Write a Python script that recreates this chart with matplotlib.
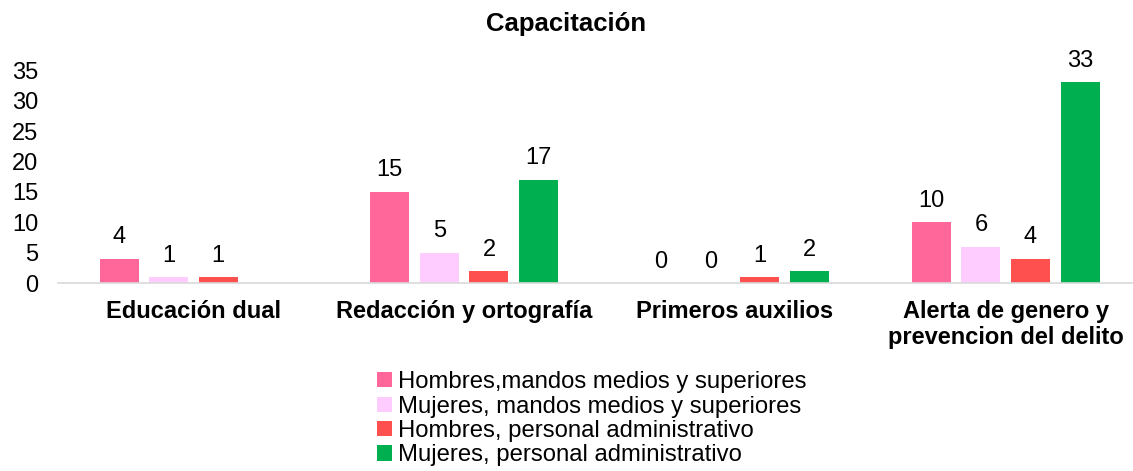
import numpy as np
import matplotlib.pyplot as plt

categorias = ["Educación dual", "Redacción y ortografía", "Primeros auxilios",
              "Alerta de genero y\nprevencion del delito"]
series = ["Hombres,mandos medios y superiores", "Mujeres, mandos medios y superiores",
          "Hombres, personal administrativo", "Mujeres, personal administrativo"]
hombres_mandos = [4, 15, 0, 10]
mujeres_mandos = [1, 5, 0, 6]
hombres_admin = [1, 2, 1, 4]
mujeres_admin = [np.nan, 17, 2, 33]
colores = ["#FF6699", "#FFCCFF", "#FF5050", "#00B050"]

plt.rcParams['font.family'] = ['Liberation Sans', 'DejaVu Sans']

fig = plt.figure(figsize=(11.33, 4.71), dpi=100)
ax = fig.add_axes([0.0512, 0.399, 0.956, 0.452])

x = np.arange(len(categorias))
w = 0.144
paso = 0.183
datos = [hombres_mandos, mujeres_mandos, hombres_admin, mujeres_admin]
for i, (vals, c, nombre) in enumerate(zip(datos, colores, series)):
    pos = x + (i - 1.5) * paso
    ax.bar(pos, vals, width=w, color=c, label=nombre)
    for p, v in zip(pos, vals):
        if not np.isnan(v):
            ax.text(p, v + 1.7, str(int(v)), ha='center', va='bottom', fontsize=17)

ax.set_xlim(-0.5, 3.5)
ax.set_ylim(0, 35)
ax.set_yticks(range(0, 36, 5))
ax.set_xticks(x)
ax.set_xticklabels(categorias, fontsize=17, fontweight='bold')
ax.tick_params(axis='both', length=0, labelsize=17)
ax.tick_params(axis='x', pad=12)
ax.tick_params(axis='y', pad=14)
for s in ['top', 'right', 'left']:
    ax.spines[s].set_visible(False)
ax.spines['bottom'].set_color('#D9D9D9')
ax.spines['bottom'].set_linewidth(1.2)

fig.suptitle("Capacitación", fontsize=18.5, fontweight='bold', y=0.975)

fig.legend(loc='upper left', bbox_to_anchor=(0.3225, 0.237), frameon=False,
           fontsize=17.2, handlelength=0.6, handleheight=0.6, handletextpad=0.25,
           labelspacing=0.1, borderpad=0)

fig.savefig("out.png", dpi=100)
